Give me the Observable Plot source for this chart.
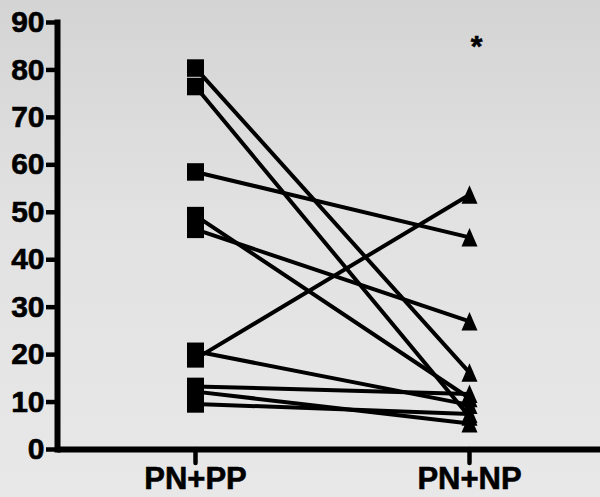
<!DOCTYPE html>
<html>
<head>
<meta charset="utf-8">
<script src="https://cdn.jsdelivr.net/npm/d3@7"></script>
<script src="https://cdn.jsdelivr.net/npm/@observablehq/plot@0.6"></script>
<style>
  html, body { margin: 0; padding: 0; }
  body {
    width: 600px; height: 497px; overflow: hidden;
    background: linear-gradient(to bottom, #d4d4d4 0%, #e2e2e2 45%, #e8e8e8 100%);
    font-family: "Liberation Sans", Arial, sans-serif;
  }
  svg { display: block; }
  svg text { stroke: black; stroke-width: 0.6px; paint-order: stroke; }
</style>
</head>
<body>
<div id="chart"></div>
<script>
// Data
const categories = ["PN+PP", "PN+NP"];
const pnpp = [80.4, 76.5, 58.5, 49.3, 46.4, 20.7, 19.1, 13.3, 12.2, 9.6];
const pnnp = [16.2, 6.9, 44.7, 10.8, 27.0, 9.4, 53.7, 11.7, 5.5, 7.5];
const yTicks = [0, 10, 20, 30, 40, 50, 60, 70, 80, 90];
const annotX = ["PN+NP"];
const annotY = [85];
const annotText = ["*"];

const rows = pnpp.flatMap((v, i) => [
  {subject: i, group: categories[0], value: v},
  {subject: i, group: categories[1], value: pnnp[i]}
]);
const annotations = annotText.map((t, i) => ({x: annotX[i], y: annotY[i], label: t}));

const squareSym = {draw(ctx) { ctx.rect(-8.5, -8.75, 17, 17.5); }};
const triangleSym = {draw(ctx) { ctx.moveTo(0, -9.5); ctx.lineTo(8, 9); ctx.lineTo(-8, 9); ctx.closePath(); }};

const chart = Plot.plot({
  width: 600,
  height: 497,
  marginTop: 22,
  marginBottom: 48,
  marginLeft: 57,
  marginRight: 0,
  style: {background: "transparent", fontFamily: "'Liberation Sans', Arial, sans-serif", color: "black"},
  x: {type: "point", domain: categories, range: [195, 469], padding: 0, align: 0.5},
  y: {domain: [0, 90], range: [449, 22]},
  marks: [
    Plot.line(rows, {x: "group", y: "value", z: "subject", stroke: "black", strokeWidth: 4}),
    Plot.dot(rows.filter(d => d.group === categories[0]), {x: "group", y: "value", symbol: squareSym, fill: "black", stroke: "none"}),
    Plot.dot(rows.filter(d => d.group === categories[1]), {x: "group", y: "value", symbol: triangleSym, fill: "black", stroke: "none"}),
    Plot.axisY({ticks: yTicks, tickSize: 11, tickPadding: 2, fontSize: 30, fontWeight: "bold", strokeWidth: 4.5, label: null, tickFormat: d => String(d), style: {letterSpacing: "-2px"}}),
    Plot.axisX({tickSize: 14, tickPadding: 3, fontSize: 31, fontWeight: "bold", strokeWidth: 4.5, label: null, strokeLinecap: "round"}),
    Plot.frame({anchor: "left", stroke: "black", strokeWidth: 6}),
    Plot.ruleY([0], {stroke: "black", strokeWidth: 6}),
    Plot.text(annotations, {x: "x", y: "y", text: "label", dx: 7, fontSize: 30, fontWeight: "bold"})
  ]
});
document.getElementById("chart").appendChild(chart);
</script>
</body>
</html>
